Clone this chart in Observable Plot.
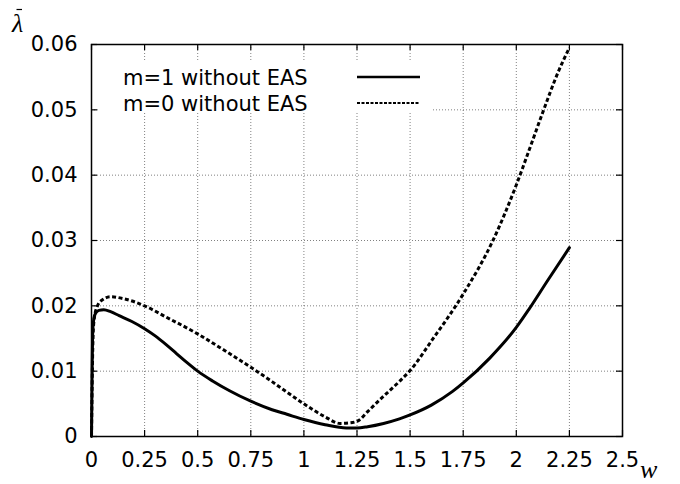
<!DOCTYPE html>
<html>
<head>
<meta charset="utf-8">
<script src="https://cdn.jsdelivr.net/npm/d3@7"></script>
<script src="https://cdn.jsdelivr.net/npm/@observablehq/plot@0.6"></script>
<style>
  html, body { margin: 0; padding: 0; background: #fff; }
</style>
</head>
<body>
<div id="chart"></div>
<script>
// Growth rate λ̄ versus frequency w, without EAS, for modes m=1 and m=0
const seriesNames = ["m=1 without EAS", "m=0 without EAS"];

const wM1 = [0, 0.003, 0.006, 0.012, 0.02, 0.035, 0.058, 0.09, 0.13, 0.19, 0.25, 0.3, 0.35, 0.4, 0.45, 0.5, 0.57, 0.65, 0.75, 0.85, 0.92, 1.0, 1.1, 1.2, 1.25, 1.3, 1.375, 1.45, 1.5, 1.6, 1.7, 1.75, 1.875, 2.0, 2.06, 2.15, 2.25];
const lamM1 = [0, 0.0100, 0.0162, 0.0182, 0.0189, 0.0193, 0.0194, 0.0191, 0.0185, 0.0176, 0.0165, 0.0154, 0.0141, 0.0127, 0.0113, 0.0100, 0.0085, 0.0070, 0.0054, 0.0041, 0.0034, 0.0026, 0.0018, 0.0013, 0.0013, 0.0015, 0.0020, 0.0027, 0.0033, 0.0048, 0.0069, 0.0082, 0.0120, 0.0167, 0.0195, 0.0240, 0.0289];

const wM0 = [0, 0.004, 0.008, 0.015, 0.027, 0.05, 0.09, 0.15, 0.25, 0.35, 0.5, 0.625, 0.75, 0.85, 0.92, 1.0, 1.1, 1.17, 1.22, 1.26, 1.3, 1.36, 1.455, 1.5, 1.6, 1.75, 1.89, 2.0, 2.06, 2.12, 2.2, 2.25];
const lamM0 = [0, 0.0100, 0.0160, 0.0185, 0.0199, 0.0209, 0.0214, 0.0211, 0.0200, 0.0183, 0.0157, 0.0132, 0.0106, 0.0084, 0.0068, 0.0050, 0.0030, 0.0020, 0.0021, 0.0025, 0.0038, 0.0057, 0.0086, 0.0101, 0.0146, 0.0218, 0.0300, 0.0385, 0.0438, 0.0492, 0.0560, 0.0595];

const xTicks = [0, 0.25, 0.5, 0.75, 1, 1.25, 1.5, 1.75, 2, 2.25, 2.5];
const yTicks = [0, 0.01, 0.02, 0.03, 0.04, 0.05, 0.06];

const m1 = wM1.map((w, i) => ({w, lam: lamM1[i]}));
const m0 = wM0.map((w, i) => ({w, lam: lamM0[i]}));

const W = 680, H = 484;
const mL = 91, mR = 58, mT = 44, mB = 48;
const fw = W - mL - mR, fh = H - mT - mB;
const tickLen = 6;
const gridStyle = {stroke: "#444", strokeOpacity: 0.85, strokeWidth: 0.8, strokeDasharray: "1,2"};

const plot = Plot.plot({
  width: W, height: H,
  marginLeft: mL, marginRight: mR, marginTop: mT, marginBottom: mB,
  style: {fontFamily: "'DejaVu Sans', sans-serif", fontSize: "21px", color: "black", background: "white"},
  x: {domain: [0, 2.5]},
  y: {domain: [0, 0.06]},
  marks: [
    Plot.gridX(xTicks, gridStyle),
    Plot.gridY(yTicks, gridStyle),
    // inward tick marks on all four sides
    Plot.tickX(xTicks, {insetTop: fh - tickLen, stroke: "black", strokeWidth: 1.2}),
    Plot.tickX(xTicks, {insetBottom: fh - tickLen, stroke: "black", strokeWidth: 1.2}),
    Plot.tickY(yTicks, {insetRight: fw - tickLen, stroke: "black", strokeWidth: 1.2}),
    Plot.tickY(yTicks, {insetLeft: fw - tickLen, stroke: "black", strokeWidth: 1.2}),
    Plot.axisX(xTicks, {tickSize: 0, tickPadding: 16, tickFormat: d => String(d), label: null}),
    Plot.axisY(yTicks, {tickSize: 0, tickPadding: 14, tickFormat: d => String(d), label: null}),
    Plot.line(m1, {x: "w", y: "lam", stroke: "black", strokeWidth: 3, curve: "monotone-x"}),
    Plot.line(m0, {x: "w", y: "lam", stroke: "black", strokeWidth: 3, strokeLinecap: "butt", strokeDasharray: "4,2.5", curve: "monotone-x"}),
    Plot.frame({stroke: "black", strokeWidth: 1.5})
  ]
});

document.getElementById("chart").append(plot);

const svg = d3.select(plot);

// legend box
const lg = svg.append("g").attr("text-anchor", "start");
lg.append("rect").attr("x", 100).attr("y", 60).attr("width", 332).attr("height", 52).attr("fill", "white");
const rows = [
  {label: seriesNames[0], y: 84.5, dash: null},
  {label: seriesNames[1], y: 110.5, dash: "3,1.5"}
];
rows.forEach(r => {
  lg.append("text")
    .attr("x", 123).attr("y", r.y)
    .attr("text-anchor", "start")
    .attr("font-family", "'DejaVu Sans', sans-serif")
    .attr("font-size", 21)
    .attr("fill", "black")
    .text(r.label);
  lg.append("line")
    .attr("x1", 357).attr("x2", 420)
    .attr("y1", r.y - 7.5).attr("y2", r.y - 7.5)
    .attr("stroke", "black").attr("stroke-width", r.dash ? 2 : 2.6)
    .attr("stroke-linecap", "butt")
    .attr("stroke-dasharray", r.dash);
});

// axis names: λ̄ (top left) and w (bottom right)
svg.append("text")
  .attr("x", 12).attr("y", 32)
  .attr("text-anchor", "start")
  .attr("font-family", "'Liberation Serif', serif")
  .attr("font-style", "italic")
  .attr("font-size", 26)
  .attr("fill", "black")
  .text("λ");
svg.append("line")
  .attr("x1", 16.5).attr("x2", 22).attr("y1", 9.5).attr("y2", 9.5)
  .attr("stroke", "black").attr("stroke-width", 1.2);
svg.append("text")
  .attr("x", 640).attr("y", 478)
  .attr("text-anchor", "start")
  .attr("font-family", "'Liberation Serif', serif")
  .attr("font-style", "italic")
  .attr("font-size", 26)
  .attr("fill", "black")
  .text("w");
</script>
</body>
</html>
